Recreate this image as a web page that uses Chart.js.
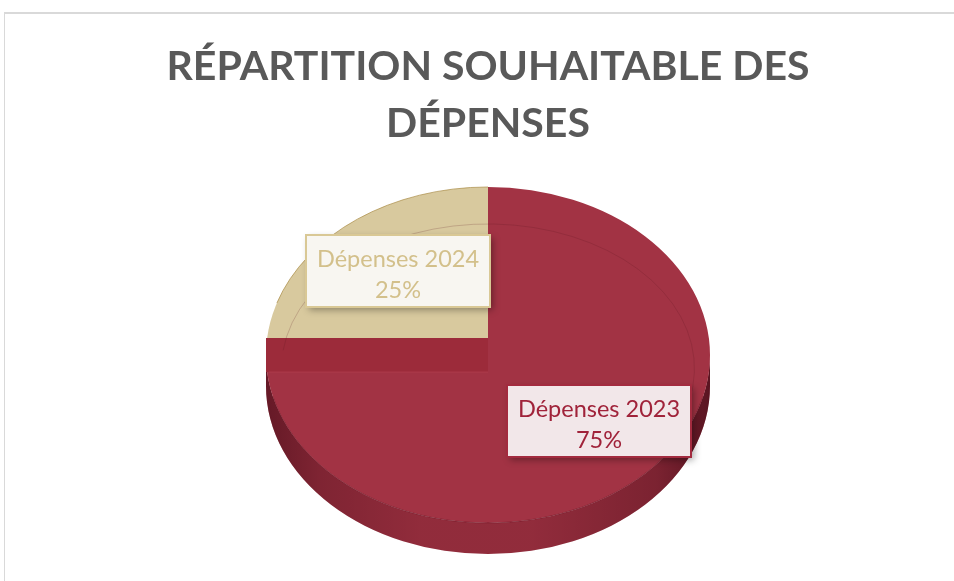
<!DOCTYPE html>
<html><head><meta charset="utf-8">
<script src="https://cdn.jsdelivr.net/npm/chart.js@4.4.1/dist/chart.umd.min.js"></script>
<style>
html,body{margin:0;padding:0;background:#fff;}
#wrap{position:relative;width:954px;height:581px;overflow:hidden;background:#fff;}
#frame{position:absolute;left:4px;top:12px;width:1000px;height:700px;border-top:2px solid #d9d9d9;border-left:1px solid #d9d9d9;}
canvas{position:absolute;left:0;top:0;}
</style></head><body>
<div id="wrap"><div id="frame"></div><canvas id="c" width="954" height="581"></canvas></div>
<script>
// ---- data ----
const categories = ['Dépenses 2023', 'Dépenses 2024'];
const values = [75, 25];
const titleLines = ['RÉPARTITION SOUHAITABLE DES', 'DÉPENSES'];

// ---- styles ----
const sliceColors = ['#A23344', '#D8C99E'];
const sideColors = ['#972E3E', '#B9A675'];
const labelText = ['#A0233A', '#D3C08B'];
const labelFill = ['#F2E7E9', '#F8F6F1'];
const labelBorder = ['#A32B3F', '#D9C895'];
const labelPos = [{fx: 0.707, fy: 0.556}, {fx: 0.576, fy: 0.707}];

const total = values.reduce((a, b) => a + b, 0);

const pie3d = {
  id: 'pie3d',
  beforeDatasetsDraw(chart, args, opts) {
    const arcs = chart.getDatasetMeta(0).data;
    if (!arcs.length) return;
    const a0 = arcs[0];
    const cx = a0.x, cy = a0.y, r = a0.outerRadius;
    const sx = opts.rx / r, sy = opts.ry / r;
    chart.$pie = {cx, cy, r, sx, sy};
    const ctx = chart.ctx;
    ctx.save();
    ctx.translate(cx, cy); ctx.scale(sx, sy); ctx.translate(-cx, -cy);
    const d = opts.depth / sy;
    arcs.forEach((arc, i) => {
      const ranges = [[0, Math.PI], [2 * Math.PI, 3 * Math.PI], [-2 * Math.PI, -Math.PI]];
      ranges.forEach(([lo, hi]) => {
        const s = Math.max(arc.startAngle, lo), e = Math.min(arc.endAngle, hi);
        if (e <= s) return;
        ctx.beginPath();
        ctx.arc(cx, cy, r, s, e);
        ctx.lineTo(cx + r * Math.cos(e), cy + r * Math.sin(e) + d);
        ctx.arc(cx, cy + d, r, e, s, true);
        ctx.closePath();
        ctx.fillStyle = sideColors[i];
        ctx.fill();
        const g = ctx.createLinearGradient(cx - r, 0, cx + r, 0);
        g.addColorStop(0, 'rgba(40,0,10,0.45)');
        g.addColorStop(0.12, 'rgba(40,0,10,0.22)');
        g.addColorStop(0.35, 'rgba(40,0,10,0.05)');
        g.addColorStop(0.6, 'rgba(40,0,10,0.05)');
        g.addColorStop(0.88, 'rgba(40,0,10,0.25)');
        g.addColorStop(1, 'rgba(40,0,10,0.55)');
        ctx.fillStyle = g;
        ctx.fill();
      });
    });
  },
  afterDatasetsDraw(chart, args, opts) {
    const p = chart.$pie;
    if (!p) return;
    const ctx = chart.ctx;
    const arcs = chart.getDatasetMeta(0).data;
    const {cx, cy, r, sx, sy} = p;
    // radial wall at the start edge of the second slice
    const th = arcs[1].startAngle;
    const h = opts.band / 2 / sy;
    const ex = cx + r * Math.cos(th), ey = cy + r * Math.sin(th);
    ctx.beginPath();
    ctx.moveTo(cx, cy - h);
    ctx.lineTo(ex, ey - h);
    ctx.lineTo(ex, ey + h);
    ctx.lineTo(cx, cy + h);
    ctx.closePath();
    ctx.fillStyle = '#9C2B3A';
    ctx.fill();
    ctx.restore();
    // top outline of the back half
    const RX = r * sx, RY = r * sy;
    ctx.save();
    ctx.beginPath();
    ctx.ellipse(cx, cy, RX, RY, 0, Math.PI * 1.1, Math.PI * 1.5);
    ctx.strokeStyle = 'rgba(170,140,70,0.7)';
    ctx.lineWidth = 1;
    ctx.stroke();
    // bevel line
    ctx.beginPath();
    ctx.ellipse(cx, cy + RY * 0.08, RX * 0.93, RY * 0.86, 0, Math.PI * 1.04, Math.PI * 2.05);
    ctx.strokeStyle = 'rgba(90,20,30,0.2)';
    ctx.stroke();
    // band bottom line
    ctx.beginPath();
    ctx.moveTo(cx, cy + opts.band / 2);
    ctx.lineTo(cx - RX + 3, cy + opts.band / 2);
    ctx.strokeStyle = 'rgba(190,70,85,0.5)';
    ctx.stroke();
    // front face edge
    ctx.beginPath();
    ctx.ellipse(cx, cy, RX, RY, 0, Math.PI * 0.08, Math.PI * 0.92);
    ctx.strokeStyle = 'rgba(100,15,30,0.45)';
    ctx.stroke();
    ctx.restore();

    // labels
    ctx.save();
    ctx.font = '23.5px Lato';
    arcs.forEach((arc, i) => {
      const mid = (arc.startAngle + arc.endAngle) / 2;
      const x = cx + Math.cos(mid) * RX * labelPos[i].fx;
      const y = cy + Math.sin(mid) * RY * labelPos[i].fy;
      const l1 = categories[i];
      const l2 = Math.round(values[i] / total * 100) + '%';
      const w = Math.round(Math.max(ctx.measureText(l1).width, ctx.measureText(l2).width) + 22);
      const hh = 72;
      const bx = Math.round(x - w / 2), by = Math.round(y - hh / 2);
      ctx.save();
      ctx.shadowColor = 'rgba(0,0,0,0.35)';
      ctx.shadowBlur = 7;
      ctx.shadowOffsetX = 3;
      ctx.shadowOffsetY = 3;
      ctx.fillStyle = labelFill[i];
      ctx.fillRect(bx, by, w, hh);
      ctx.restore();
      ctx.strokeStyle = labelBorder[i];
      ctx.lineWidth = 2;
      ctx.strokeRect(bx, by, w, hh);
      ctx.fillStyle = labelText[i];
      ctx.textAlign = 'center';
      ctx.textBaseline = 'alphabetic';
      ctx.fillText(l1, bx + w / 2, by + 32);
      ctx.fillText(l2, bx + w / 2, by + 63);
    });
    ctx.restore();
  }
};

new Chart(document.getElementById('c'), {
  type: 'pie',
  data: {
    labels: categories,
    datasets: [{
      data: values,
      backgroundColor: sliceColors,
      borderWidth: 0,
      clip: false
    }]
  },
  options: {
    responsive: false,
    animation: false,
    layout: {padding: {left: 22, right: 0, top: 0, bottom: 26}},
    plugins: {
      legend: {display: false},
      tooltip: {enabled: false},
      title: {
        display: true,
        text: titleLines,
        color: '#595959',
        font: {family: 'Lato', size: 41, weight: 'bold', lineHeight: 1.39},
        padding: {top: 38, bottom: 3}
      },
      pie3d: {rx: 222, ry: 168, depth: 31, band: 34}
    }
  },
  plugins: [pie3d]
});
</script>
</body></html>
